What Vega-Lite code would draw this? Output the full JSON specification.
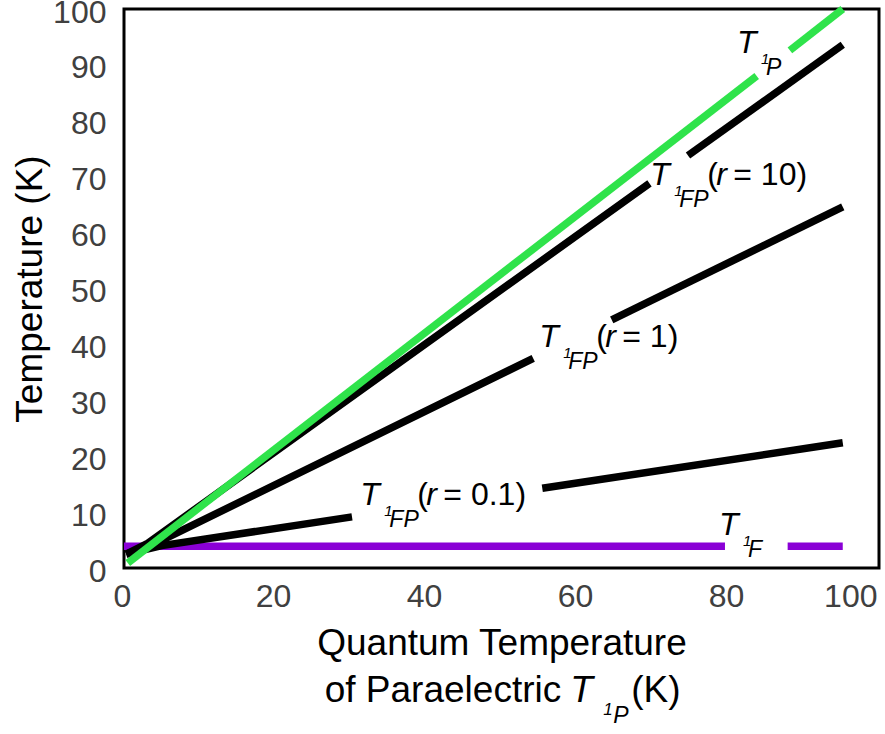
{
  "$schema": "https://vega.github.io/schema/vega-lite/v6.json",
  "width": 755,
  "height": 559,
  "autosize": {"type": "none"},
  "padding": {"left": 124, "top": 9, "right": 6, "bottom": 166},
  "background": "white",
  "config": {
    "view": {"stroke": "#000000", "strokeWidth": 3},
    "font": "Liberation Sans",
    "axis": {"domain": false, "ticks": false, "grid": false, "labelFont": "Liberation Sans", "titleFont": "Liberation Sans", "labelColor": "#404040", "titleColor": "#000000", "titleFontWeight": "normal"}
  },
  "datasets": {
    "lines": [
      {"series": "T1F", "seg": "f1", "x": 0, "y": 3.9},
      {"series": "T1F", "seg": "f1", "x": 79.6, "y": 3.9},
      {"series": "T1F", "seg": "f2", "x": 87.9, "y": 3.9},
      {"series": "T1F", "seg": "f2", "x": 95.2, "y": 3.9},
      {"series": "r0.1", "seg": "s1", "x": 0.3, "y": 2.5},
      {"series": "r0.1", "seg": "s1", "x": 5, "y": 4.0},
      {"series": "r0.1", "seg": "s1", "x": 30.2, "y": 9.14},
      {"series": "r0.1", "seg": "s2", "x": 55.4, "y": 14.28},
      {"series": "r0.1", "seg": "s2", "x": 95.2, "y": 22.4},
      {"series": "r1", "seg": "m1", "x": 0.3, "y": 2.5},
      {"series": "r1", "seg": "m1", "x": 4, "y": 4.3},
      {"series": "r1", "seg": "m1", "x": 54.2, "y": 37.5},
      {"series": "r1", "seg": "m2", "x": 64.6, "y": 44.4},
      {"series": "r1", "seg": "m2", "x": 95.2, "y": 64.6},
      {"series": "r10", "seg": "t1", "x": 0.3, "y": 2.5},
      {"series": "r10", "seg": "t1", "x": 3, "y": 4.3},
      {"series": "r10", "seg": "t1", "x": 69.6, "y": 68.8},
      {"series": "r10", "seg": "t2", "x": 74.7, "y": 73.8},
      {"series": "r10", "seg": "t2", "x": 95.2, "y": 93.6},
      {"series": "T1P", "seg": "p1", "x": 0.5, "y": 0.9},
      {"series": "T1P", "seg": "p1", "x": 83.8, "y": 88.0},
      {"series": "T1P", "seg": "p2", "x": 88.2, "y": 92.6},
      {"series": "T1P", "seg": "p2", "x": 95.2, "y": 100}
    ],
    "labels": [
      {"x": 81.6, "y": 92.1, "sub": "P", "suffix": null},
      {"x": 70.1, "y": 68.5, "sub": "FP", "suffix": "= 10)"},
      {"x": 55.4, "y": 39.5, "sub": "FP", "suffix": "= 1)"},
      {"x": 31.7, "y": 11.3, "sub": "FP", "suffix": "= 0.1)"},
      {"x": 79.2, "y": 5.9, "sub": "F", "suffix": null}
    ],
    "xtitle": [
      {"x": 59.5, "y": -24.0, "lead": "of Paraelectric", "sub": "P", "tail": "(K)"}
    ]
  },
  "encoding": {
    "x": {"field": "x", "type": "quantitative",
      "scale": {"domain": [0, 100], "nice": false, "zero": false},
      "axis": {"values": [0, 20, 40, 60, 80, 100], "labelFontSize": 32, "labelPadding": 13,
        "labelAlign": {"condition": {"test": "datum.value === 100", "value": "right"}, "value": "center"},
        "labelOffset": -2, "title": "Quantum Temperature", "titleFontSize": 37, "titlePadding": 13}},
    "y": {"field": "y", "type": "quantitative",
      "scale": {"domain": [0, 100], "nice": false, "zero": false},
      "axis": {"values": [0, 10, 20, 30, 40, 50, 60, 70, 80, 90, 100], "labelFontSize": 32, "labelPadding": 18, "labelOffset": 3, "title": "Temperature (K)", "titleFontSize": 37, "titlePadding": 3}}
  },
  "layer": [
    {
      "data": {"name": "lines"},
      "mark": {"type": "line", "strokeWidth": 7.5, "strokeCap": "butt", "clip": false},
      "encoding": {
        "detail": {"field": "seg"},
        "order": {"field": "x", "type": "quantitative"},
        "color": {"field": "series", "type": "nominal",
          "scale": {"domain": ["T1F", "r0.1", "r1", "r10", "T1P"], "range": ["#8a00d6", "#000000", "#000000", "#000000", "#2fe34b"]},
          "legend": null}
      }
    },
    {
      "data": {"name": "labels"},
      "mark": {"type": "text", "text": "T", "fontStyle": "italic", "fontSize": 32, "align": "left", "baseline": "alphabetic", "dx": -3, "color": "#000000"}
    },
    {
      "data": {"name": "labels"},
      "mark": {"type": "text", "text": "1", "fontStyle": "italic", "fontSize": 15, "align": "left", "baseline": "alphabetic", "dx": 21, "dy": 11, "color": "#000000"}
    },
    {
      "data": {"name": "labels"},
      "mark": {"type": "text", "fontStyle": "italic", "fontSize": 23, "align": "left", "baseline": "alphabetic", "dx": 26, "dy": 22, "color": "#000000"},
      "encoding": {"text": {"field": "sub"}}
    },
    {
      "data": {"name": "labels"},
      "transform": [{"filter": "datum.suffix != null"}],
      "mark": {"type": "text", "text": "(", "fontSize": 32, "align": "left", "baseline": "alphabetic", "dx": 54, "color": "#000000"}
    },
    {
      "data": {"name": "labels"},
      "transform": [{"filter": "datum.suffix != null"}],
      "mark": {"type": "text", "text": "r", "fontStyle": "italic", "fontSize": 32, "align": "left", "baseline": "alphabetic", "dx": 63, "color": "#000000"}
    },
    {
      "data": {"name": "labels"},
      "transform": [{"filter": "datum.suffix != null"}],
      "mark": {"type": "text", "fontSize": 32, "align": "left", "baseline": "alphabetic", "dx": 80, "color": "#000000"},
      "encoding": {"text": {"field": "suffix"}}
    },
    {
      "data": {"name": "xtitle"},
      "mark": {"type": "text", "fontSize": 37, "align": "right", "baseline": "alphabetic", "dx": -12, "color": "#000000"},
      "encoding": {"text": {"field": "lead"}}
    },
    {
      "data": {"name": "xtitle"},
      "mark": {"type": "text", "text": "T", "fontStyle": "italic", "fontSize": 37, "align": "left", "baseline": "alphabetic", "dx": -3, "color": "#000000"}
    },
    {
      "data": {"name": "xtitle"},
      "mark": {"type": "text", "text": "1", "fontStyle": "italic", "fontSize": 17, "align": "left", "baseline": "alphabetic", "dx": 30, "dy": 13, "color": "#000000"}
    },
    {
      "data": {"name": "xtitle"},
      "mark": {"type": "text", "fontStyle": "italic", "fontSize": 23, "align": "left", "baseline": "alphabetic", "dx": 40, "dy": 21, "color": "#000000"},
      "encoding": {"text": {"field": "sub"}}
    },
    {
      "data": {"name": "xtitle"},
      "mark": {"type": "text", "fontSize": 37, "align": "left", "baseline": "alphabetic", "dx": 58, "color": "#000000"},
      "encoding": {"text": {"field": "tail"}}
    }
  ]
}
